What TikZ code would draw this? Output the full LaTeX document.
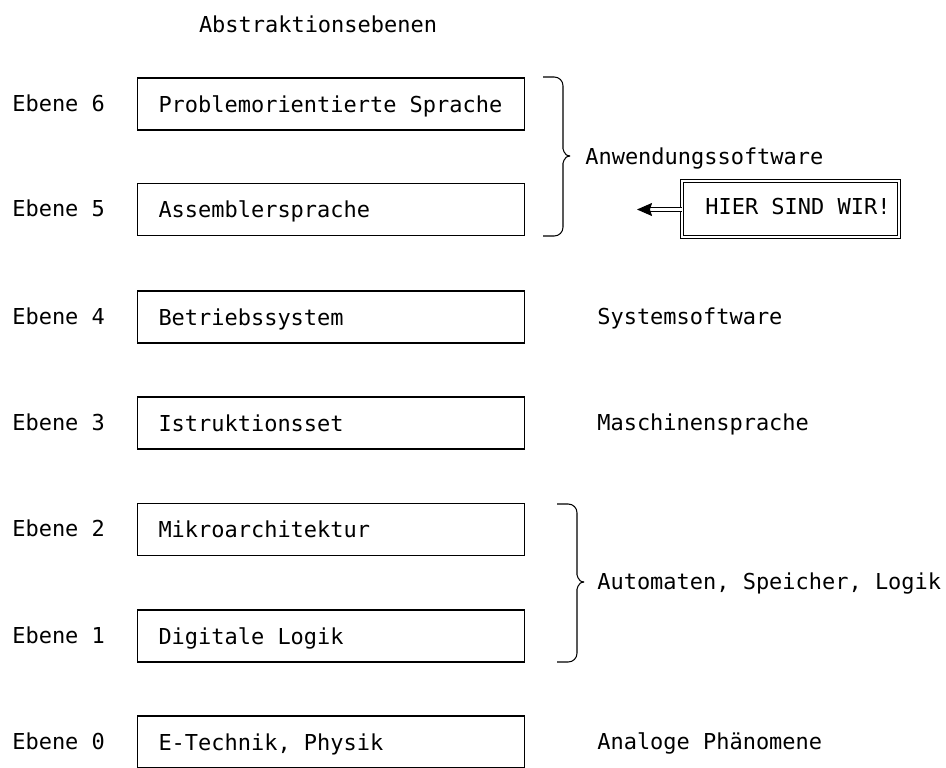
\documentclass[tikz,border=0pt]{standalone}
\usepackage{fontspec}
\setmonofont{DejaVu Sans Mono}
\usetikzlibrary{calc,arrows.meta}
\tikzset{every node/.style={font=\ttfamily\fontsize{12.5}{15}\selectfont, text height=9pt, text depth=3pt},
ebox/.style={draw, line width=0.6pt, anchor=west, minimum height=1.04cm, inner xsep=0.42cm, text height=11pt, text depth=1.6pt},
lbl/.style={anchor=west, inner sep=0pt},
brace/.style={line width=0.6pt, rounded corners=5},
hier/.style={draw, double, line width=0.6pt, double distance=0.05cm, minimum height=1.12cm, inner xsep=0.17cm}}

\begin{document}
\begin{tikzpicture}[x=0.02cm, y=-0.02cm]
\useasboundingbox (0,0) rectangle (946,767);
\node (title) at (318,27) {Abstraktionsebenen};
%levels
\foreach \n/\y/\t in {6/104/Problemorientierte Sprache, 5/209.5/Assemblersprache, 4/317/Betriebssystem, 3/423/Istruktionsset, 2/529.5/Mikroarchitektur, 1/636/Digitale Logik, 0/742/{E-Technik, Physik}} {
\node[ebox] (b\n) at (137,\y) {\makebox[6.9cm][l]{\t}};
\node[lbl] (e\n) at (12,\y+2) {Ebene \n};
}
%braces
\draw[brace] (543,77) -| (563,140) to[out=-90,in=180,rounded corners=0] (570,156);
\draw[brace] (543,236) -| (563,172) to[out=90,in=180,rounded corners=0] (570,156);
\draw[brace] (557,504) -| (577,566) to[out=-90,in=180,rounded corners=0] (584,582);
\draw[brace] (557,662) -| (577,598) to[out=90,in=180,rounded corners=0] (584,582);
\node[lbl] (anw) at (585,159) {Anwendungssoftware};
\node[lbl] (sys) at (597,319) {Systemsoftware};
\node[lbl] (msp) at (597,425) {Maschinensprache};
\node[lbl] (aut) at (597,584) {Automaten, Speicher, Logik};
\node[lbl] (ana) at (597,744) {Analoge Phänomene};
%hier
\node[hier] (hier) at (790.5,209) {\makebox[4.0cm][r]{HIER SIND WIR!}};
\coordinate (tip) at (637,209.5);
\draw[double, line width=0.6pt, double distance=0.05cm, -{Stealth[length=0.3cm,width=0.26cm,inset=0.04cm]}] (hier.west |- tip) -- (tip);
\end{tikzpicture}
\end{document}
